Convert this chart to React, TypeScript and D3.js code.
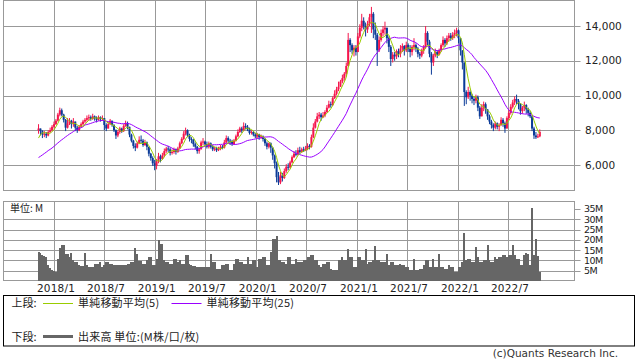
import React from 'react';
import * as d3 from 'd3';

// ---- data (weekly, first week starts 2017-11-06) ----
const firstWeek = new Date(2017, 10, 6);

const closes = [
  8100, 7950, 7750, 7800, 7700, 7900, 8000, 8200, 8350, 8550,
  8900, 9150, 8900, 8600, 8150, 8400, 8550, 8350, 8500, 8150,
  8000, 8200, 8350, 8500, 8600, 8700, 8750, 8650, 8800, 8700,
  8600, 8750, 8650, 8700, 8300, 8100, 8350, 8550, 8300, 8000,
  7700, 7900, 8100, 7950, 8250, 8400, 8200, 7750, 7400, 7100,
  7000, 7250, 7450, 7400, 7150, 7300, 7050, 6650, 6400, 6100,
  5950, 6200, 6500, 6350, 6550, 6800, 6950, 6900, 6700, 6750,
  6900, 6750, 6950, 7250, 7500, 7800, 8000, 7700, 7500, 7450,
  7200, 7050, 6800, 6900, 7300, 7350, 7200, 7050, 7250, 7050,
  6900, 6950, 6850, 6950, 7050, 7000, 7300, 7550, 7400, 7350,
  7200, 7400, 7650, 7900, 8100, 8000, 8250, 8200, 8050, 7850,
  7900, 7750, 7650, 7750, 7600, 7650, 7500, 7250, 7050, 7250,
  7000, 6550, 6100, 5300, 5000, 5400, 5250, 5650, 5900, 5850,
  6150, 6450, 6650, 6600, 6850, 6750, 6900, 6850, 6950, 7100,
  7050, 7600, 8150, 8500, 8800, 8900, 8750, 8850, 9050, 9300,
  9500, 9450, 9850, 10100, 10350, 10500, 10800, 11000, 11250, 11700,
  13200, 12900, 12600, 12750, 12500, 13400, 13900, 14300, 14000, 13800,
  14100, 14500, 14700, 13800, 13500, 12600, 13200, 13600, 13800, 13900,
  13300, 12800, 12100, 12350, 12250, 12550, 12400, 12700, 12850, 12600,
  12900, 12700, 12500, 12800, 12900, 12700, 12400, 12300, 12600, 12800,
  13600, 13100, 12400, 11900, 12300, 12500, 12350, 12600, 12900, 13200,
  13000, 13300, 13450, 13300, 13500, 13600, 13750, 13300, 12600, 11900,
  10200, 9900, 10200, 10000, 9800, 9700, 9900, 9300, 8800, 9300,
  9500, 9200, 8800, 8500, 8300, 8150, 8400, 8200, 8300, 8600,
  8400, 8100, 8700, 9000, 9350, 9600, 9800, 9700, 9500, 9100,
  9300, 9450, 9200, 9000, 8800, 8100, 7700, 7600, 7650, 7900,
];

const highs = [
  8350, 8100, 8000, 7950, 7900, 8000, 8150, 8300, 8500, 8650,
  9000, 9300, 9250, 8950, 8650, 8700, 8700, 8600, 8700, 8500,
  8250, 8300, 8450, 8600, 8700, 8850, 8900, 8850, 8950, 8850,
  8800, 8850, 8800, 8850, 8700, 8400, 8500, 8650, 8550, 8350,
  8050, 8000, 8200, 8150, 8350, 8550, 8500, 8100, 7800, 7450,
  7250, 7350, 7650, 7700, 7500, 7450, 7350, 7050, 6700, 6500,
  6300, 6350, 6700, 6600, 6700, 6950, 7050, 7100, 7000, 6900,
  7000, 6950, 7050, 7350, 7600, 7950, 8150, 8050, 7800, 7600,
  7500, 7300, 7100, 7000, 7400, 7550, 7400, 7350, 7350, 7300,
  7150, 7050, 7050, 7050, 7150, 7150, 7450, 7700, 7650, 7500,
  7450, 7500, 7750, 8050, 8200, 8200, 8450, 8400, 8300, 8150,
  8000, 7950, 7850, 7850, 7800, 7750, 7700, 7550, 7350, 7300,
  7300, 7000, 6600, 6200, 5600, 5600, 5550, 5800, 6050, 6100,
  6250, 6550, 6800, 6850, 7000, 7050, 7000, 7050, 7100, 7250,
  7200, 7750, 8400, 8650, 9000, 9050, 9000, 9050, 9150, 9450,
  9700, 9650, 9950, 10300, 10500, 10800, 10900, 11200, 11350, 11900,
  13600, 13300, 13000, 12900, 12900, 13600, 14100, 14700, 14500, 14200,
  14300, 14700, 15100, 14800, 14200, 13600, 13400, 13800, 14000, 14250,
  13900, 13400, 12900, 12500, 12500, 12650, 12700, 12900, 13000, 12900,
  13100, 13000, 12900, 12900, 13300, 13000, 12800, 12500, 12700, 12900,
  14000, 13700, 13200, 12500, 12400, 12700, 12600, 12700, 13000, 13400,
  13300, 13450, 13600, 13600, 13650, 13800, 13900, 13800, 13300, 12600,
  11300, 10300, 10500, 10300, 10100, 9950, 10050, 10000, 9400, 9500,
  9650, 9600, 9200, 8900, 8600, 8400, 8500, 8450, 8400, 8750,
  8700, 8500, 8800, 9150, 9500, 9750, 9950, 10050, 9800, 9550,
  9400, 9650, 9500, 9300, 9100, 8850, 8200, 7900, 7800, 8050,
];

const lows = [
  7800, 7700, 7550, 7600, 7550, 7650, 7850, 7950, 8100, 8300,
  8500, 8800, 8800, 8450, 7950, 8100, 8300, 8100, 8200, 7950,
  7850, 7950, 8150, 8300, 8400, 8500, 8550, 8550, 8600, 8550,
  8450, 8550, 8500, 8550, 8000, 7950, 8100, 8300, 8200, 7900,
  7500, 7600, 7800, 7850, 7900, 8200, 8050, 7600, 7300, 6950,
  6800, 6950, 7200, 7250, 7050, 7100, 6850, 6500, 6250, 5950,
  5700, 5750, 6100, 6150, 6300, 6450, 6700, 6750, 6550, 6600,
  6650, 6600, 6700, 6950, 7200, 7450, 7700, 7600, 7350, 7250,
  7050, 6900, 6650, 6650, 6900, 7150, 7100, 6950, 6950, 6950,
  6800, 6800, 6750, 6800, 6850, 6900, 6950, 7250, 7250, 7150,
  7100, 7150, 7350, 7600, 7850, 7850, 7950, 8050, 7950, 7750,
  7750, 7650, 7550, 7550, 7450, 7500, 7350, 7100, 6900, 6950,
  6700, 6300, 5800, 5000, 4850, 4900, 5050, 5200, 5550, 5700,
  5800, 6100, 6400, 6500, 6550, 6650, 6700, 6750, 6800, 6850,
  6900, 7000, 7550, 8100, 8450, 8650, 8550, 8700, 8750, 9000,
  9250, 9300, 9400, 9800, 10000, 10250, 10500, 10700, 10850, 11100,
  11800, 12500, 12400, 12250, 12300, 12700, 13300, 13700, 13800, 13400,
  13600, 14000, 13600, 13300, 13200, 11700, 12500, 13100, 13400, 13500,
  13000, 12500, 11700, 11900, 12000, 12100, 12200, 12200, 12500, 12300,
  12500, 12500, 12200, 12300, 12600, 12500, 12200, 12100, 12200, 12400,
  12700, 12900, 12200, 11200, 11700, 12200, 12150, 12300, 12500, 12800,
  12800, 12900, 13100, 13150, 13200, 13300, 13400, 13000, 12300, 11500,
  9400, 9500, 9800, 9700, 9550, 9450, 9550, 9100, 8650, 8800,
  9100, 8950, 8600, 8350, 8100, 7950, 8050, 8050, 7950, 8250,
  8200, 7850, 8100, 8600, 8900, 9250, 9450, 9500, 9200, 8900,
  8950, 9100, 8950, 8800, 8700, 7950, 7500, 7500, 7550, 7600,
];

// weekly volume, millions of shares
const volumes = [
  14.3, 13.7, 12.5, 12, 11.5, 7.6, 6.5, 5.2, 5.0, 4.4,
  10.8, 16, 17.6, 17.6, 13.3, 13.3, 11.8, 13.7, 10, 9,
  9, 8, 7.5, 7.2, 13.7, 7.6, 6.8, 6.8, 6.8, 8.4,
  8.4, 8.4, 9, 6.8, 7.6, 9, 9, 8.4, 8.4, 8,
  8, 8, 8, 8, 7.6, 7.6, 8.4, 8.4, 9, 9,
  16, 13.3, 9.5, 9.5, 8.4, 8.4, 10, 11.8, 11.8, 7.6,
  7.6, 10.8, 20, 18, 18, 10, 9, 9, 8.4, 8.4,
  10.8, 10.8, 9, 10, 8.4, 8.4, 12.5, 12.5, 8.4, 7.6,
  7.2, 7.2, 6.8, 6.8, 6.8, 6.8, 6.8, 6.8, 6.8, 13.3,
  9, 9, 6, 6, 6, 7.6, 7.6, 8.4, 8.4, 5.2,
  5.2, 8.4, 10.8, 10.8, 9, 9, 8.4, 8.4, 11.8, 8.4,
  8.4, 10, 10, 6.8, 10.8, 10.8, 11.8, 11.8, 7.6, 7.6,
  14, 20.5, 20.5, 22, 10, 10, 9, 9, 8.4, 11.8,
  11.8, 8.4, 8.4, 10.8, 9, 9, 9, 10, 10, 11.8,
  11.8, 12.8, 12.8, 10, 10, 7.6, 6.8, 8.4, 8.4, 9,
  9, 6, 5.2, 5.2, 5.2, 10, 10, 11.8, 10, 10,
  15.5, 11.8, 11.8, 6.8, 6.8, 11.8, 11.8, 10, 10, 15.5,
  8.4, 9, 9, 10, 17, 10, 10, 9, 9, 9,
  13.3, 7.6, 9, 9, 7.6, 7.6, 7.6, 8.4, 7.6, 7.6,
  6.8, 6.8, 5.2, 5.2, 10.8, 5.2, 5.2, 6, 6, 7.6,
  10, 10, 6.8, 6.8, 10.8, 6.8, 6.8, 13.3, 6.8, 6.8,
  6, 6, 7.6, 6.8, 6.8, 4.4, 4.4, 6.8, 6.8, 9,
  23.5, 10, 10.8, 10.8, 9, 9, 16.5, 11.8, 9, 9,
  10, 10, 17.3, 10, 9, 9, 11.8, 10.8, 11.8, 11.8,
  12.5, 12.5, 11.8, 12.5, 12.5, 17.3, 12.5, 10.8, 10.8, 7.6,
  7.6, 12.5, 13.7, 13.3, 7.6, 35.5, 12.5, 20.5, 12.2, 4.4,
];

const ma5Head = [7550, 7750, 7850, 7850];
const ma25Head = [
  6430, 6500, 6580, 6660, 6740, 6830, 6900, 6980, 7070, 7170, 7270, 7360,
  7450, 7530, 7620, 7700, 7780, 7850, 7920, 8000, 8050, 8100, 8150, 8200,
];

const priceTicks = [6000, 8000, 10000, 12000, 14000];
const volTickValues = [5, 10, 15, 20, 25, 30, 35];
const volGridValues = [5, 10, 15, 20, 25, 30];
const dateTickLabels = ['2018/1', '2018/7', '2019/1', '2019/7', '2020/1', '2020/7', '2021/1', '2021/7', '2022/1', '2022/7'];
const dateTickDates = [
  new Date(2018, 0, 1), new Date(2018, 6, 1), new Date(2019, 0, 1), new Date(2019, 6, 1),
  new Date(2020, 0, 1), new Date(2020, 6, 1), new Date(2021, 0, 1), new Date(2021, 6, 1),
  new Date(2022, 0, 1), new Date(2022, 6, 1),
];

// ---- layout ----
const W = 638, H = 362;
const L = 3.5, R = 574.5;
const P_TOP = 0.5, P_BOT = 190.5;
const V_TOP = 201.5, V_BOT = 280.5;
const UP = '#f5164c';
const DOWN = '#0b3b98';
const MA5C = '#99cc00';
const MA25C = '#9a00ff';
const GRID = '#999999';
const FONT = '"DejaVu Sans", sans-serif';
const JFONT = '"Noto Sans CJK JP", sans-serif';

function movingAvg(n: number, head: number[]) {
  return closes.map((_, i) => {
    if (i < n - 1) return head[i];
    return d3.mean(closes.slice(i - n + 1, i + 1)) as number;
  });
}

export default function App() {
  const x = d3.scaleTime()
    .domain([new Date(2018, 0, 1), new Date(2022, 6, 1)])
    .range([54, 508]);
  const y = d3.scaleLinear().domain([6000, 14000]).range([165, 26]);
  const yv = d3.scaleLinear().domain([0, 30]).range([281, 219.3]);

  const dates = closes.map((_, i) => d3.timeWeek.offset(firstWeek, i));
  const opens = closes.map((c, i) => (i === 0 ? 8000 : closes[i - 1]));
  const ma5 = movingAvg(5, ma5Head);
  const ma25 = movingAvg(25, ma25Head);

  const line = d3.line<number>()
    .x((_, i) => x(dates[i]))
    .y((v) => y(v));

  const bodyW = 2;
  const volW = 2;

  return (
    <svg width={W} height={H} viewBox={`0 0 ${W} ${H}`}
      style={{ position: 'absolute', left: 0, top: 0, background: '#fff' }}>
      <rect x={0} y={0} width={W} height={H} fill="#fff" />

      {/* ---------- price panel ---------- */}
      <g>
        {priceTicks.map((t) => (
          <line key={'pg' + t} x1={L} x2={R} y1={Math.round(y(t)) + 0.5} y2={Math.round(y(t)) + 0.5}
            stroke={GRID} strokeWidth={1} />
        ))}
        {dateTickDates.map((d, k) => (
          <line key={'px' + k} x1={Math.round(x(d)) + 0.5} x2={Math.round(x(d)) + 0.5} y1={P_TOP} y2={P_BOT}
            stroke={GRID} strokeWidth={1} />
        ))}
        <rect x={L} y={P_TOP} width={R - L} height={P_BOT - P_TOP} fill="none" stroke={GRID} strokeWidth={1} />
        {priceTicks.map((t) => (
          <g key={'pt' + t}>
            <line x1={R} x2={R + 6} y1={Math.round(y(t)) + 0.5} y2={Math.round(y(t)) + 0.5} stroke={GRID} />
            <text x={585} y={y(t) + 3.7} fontFamily={FONT} fontSize={10.5} fill="#222">
              {d3.format(',')(t)}
            </text>
          </g>
        ))}

        {closes.map((c, i) => {
          const o = opens[i];
          const up = c >= o;
          const col = up ? UP : DOWN;
          const cx = x(dates[i]);
          const top = Math.max(highs[i], o, c);
          const bot = Math.min(lows[i], o, c);
          const bTop = y(Math.max(o, c));
          const bBot = y(Math.min(o, c));
          return (
            <g key={'c' + i}>
              <rect x={cx - 0.5} y={y(top)} width={1} height={y(bot) - y(top)} fill={col} />
              <rect x={cx - bodyW / 2} y={bTop} width={bodyW} height={Math.max(1, bBot - bTop)} fill={col} />
            </g>
          );
        })}

        <path d={line(ma25) || ''} fill="none" stroke={MA25C} strokeWidth={1} />
        <path d={line(ma5) || ''} fill="none" stroke={MA5C} strokeWidth={1} />
      </g>

      {/* ---------- volume panel ---------- */}
      <g>
        {volGridValues.map((t) => (
          <line key={'vg' + t} x1={L} x2={R} y1={Math.round(yv(t)) + 0.5} y2={Math.round(yv(t)) + 0.5}
            stroke={GRID} strokeWidth={1} />
        ))}
        {dateTickDates.map((d, k) => (
          <line key={'vx' + k} x1={Math.round(x(d)) + 0.5} x2={Math.round(x(d)) + 0.5} y1={V_TOP} y2={V_BOT}
            stroke={GRID} strokeWidth={1} />
        ))}
        <rect x={L} y={V_TOP} width={R - L} height={V_BOT - V_TOP} fill="none" stroke={GRID} strokeWidth={1} />
        <g shapeRendering="crispEdges">
          {volumes.map((v, i) => (
            <rect key={'v' + i} x={x(dates[i]) - volW / 2} y={yv(v)} width={volW}
              height={Math.max(0, V_BOT - yv(v))} fill="#666666" />
          ))}
        </g>
        {volTickValues.map((t) => (
          <g key={'vt' + t}>
            <line x1={R} x2={R + 6} y1={Math.round(yv(t)) + 0.5} y2={Math.round(yv(t)) + 0.5} stroke={GRID} />
            <text x={584} y={yv(t) + 3.4} fontFamily={FONT} fontSize={9.5} letterSpacing={-0.6} fill="#222">
              {t + 'M'}
            </text>
          </g>
        ))}
        <rect x={9} y={203} width={37} height={11} fill="#fff" />
        <text x={10} y={211.5} fontFamily={JFONT} fontSize={10} fill="#222">単位: M</text>
      </g>

      {/* ---------- date labels ---------- */}
      {dateTickDates.map((d, k) => (
        <text key={'dl' + k} x={x(d) + 2} y={291.5} textAnchor="middle" fontFamily={FONT} fontSize={10.5}
          letterSpacing={0.2} fill="#222">
          {dateTickLabels[k]}
        </text>
      ))}

      {/* ---------- legend ---------- */}
      <rect x={3.5} y={295.5} width={631} height={50.5} fill="none" stroke="#000" strokeWidth={1} />
      <text x={11.5} y={307} fontFamily={JFONT} fontSize={11} fill="#222">上段:</text>
      <line x1={43} x2={73} y1={303.5} y2={303.5} stroke={MA5C} strokeWidth={1} />
      <text x={78} y={307} fontFamily={JFONT} fontSize={11} letterSpacing={0.2} fill="#222">単純移動平均(5)</text>
      <line x1={171.5} x2={201.5} y1={303.5} y2={303.5} stroke={MA25C} strokeWidth={1} />
      <text x={206.5} y={307} fontFamily={JFONT} fontSize={11} letterSpacing={0.2} fill="#222">単純移動平均(25)</text>
      <text x={11.5} y={340.5} fontFamily={JFONT} fontSize={11} fill="#222">下段:</text>
      <line x1={43} x2={73} y1={336.5} y2={336.5} stroke="#666666" strokeWidth={3} />
      <text x={78} y={340.5} fontFamily={JFONT} fontSize={11} letterSpacing={0.2} fill="#222">出来高 単位:(M株/口/枚)</text>

      <text x={618} y={357} textAnchor="end" fontFamily={FONT} fontSize={10.5} fill="#333">
        (c)Quants Research Inc.
      </text>
    </svg>
  );
}
